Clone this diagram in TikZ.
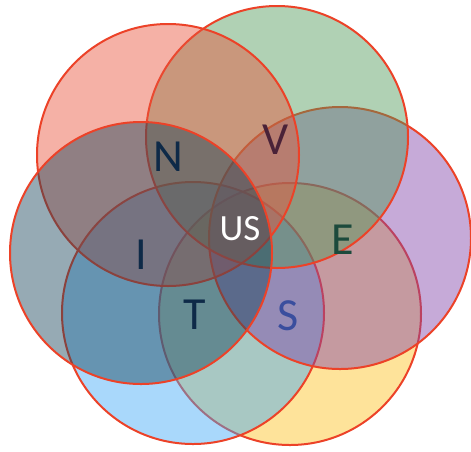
\documentclass[tikz,border=0pt]{standalone}
\usepackage{fontspec}
\setmainfont{Carlito}
\definecolor{edgec}{RGB}{236,66,40}
\definecolor{cred}{RGB}{232,82,58}
\definecolor{cgreen}{RGB}{80,152,88}
\definecolor{cpurple}{RGB}{128,66,168}
\definecolor{cyellow}{RGB}{253,192,30}
\definecolor{cblue}{RGB}{64,168,246}
\definecolor{cgray}{RGB}{22,66,88}
\definecolor{tnavy}{RGB}{14,42,72}
\definecolor{tmaroon}{RGB}{74,34,56}
\definecolor{tgreen}{RGB}{28,74,60}
\definecolor{tblue}{RGB}{58,78,158}
\tikzset{
  ven/.style={circle, draw=edgec, line width=2pt, fill opacity=0.45, draw opacity=1, minimum size=262pt, inner sep=0pt},
  lab/.style={font=\fontsize{46}{46}\selectfont, inner sep=0pt},
  labsmall/.style={font=\fontsize{37}{37}\selectfont, inner sep=0pt}
}
\begin{document}
\begin{tikzpicture}[x=1pt,y=-1pt]
\useasboundingbox (0,0) rectangle (471,451);
\node[ven, fill=cyellow] (yellow) at (290,314) {};
\node[ven, fill=cblue]   (blue)   at (193,313) {};
\node[ven, fill=cpurple] (purple) at (340,238) {};
\node[ven, fill=cgreen]  (green)  at (277,137) {};
\node[ven, fill=cred]    (red)    at (168,155) {};
\node[ven, fill=cgray]   (gray)   at (141,253) {};
\node[lab, text=tnavy]   (n)  at (168,157) {N};
\node[lab, text=tmaroon] (v)  at (276,140) {V};
\node[labsmall, text=white] (us) at (240,229) {US};
\node[lab, text=tgreen]  (e)  at (343,240) {E};
\node[lab, text=tnavy]   (i)  at (141,255) {I};
\node[lab, text=tnavy]   (t)  at (195,315) {T};
\node[lab, text=tblue]   (s)  at (288,316) {S};
\end{tikzpicture}
\end{document}
